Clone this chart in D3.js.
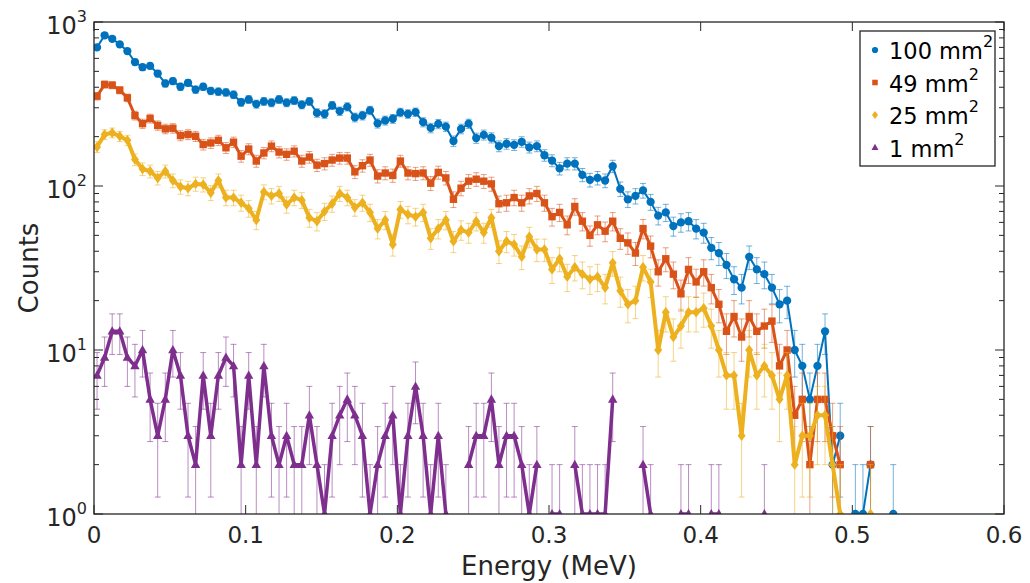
<!DOCTYPE html>
<html lang="en">
<head>
<meta charset="utf-8">
<script src="https://d3js.org/d3.v7.min.js"></script>
<style>
  body { margin: 0; background: #fff; }
  svg { font-family: "DejaVu Sans", sans-serif; }
</style>
</head>
<body>
<svg width="1030" height="583"></svg>
<script>
// bin centres of the energy histogram (MeV)
var binStart = 0.002, binWidth = 0.005;

// counts per bin, null = empty bin (not drawn on log axis)
var counts100 = [700, 830, 790, 730, 665, 570, 530, 540, 485, 422,
  436, 403, 426, 387, 403, 380, 376, 372, 360, 324,
  337, 316, 328, 322, 337, 322, 332, 313, 328, 279,
  275, 310, 286, 304, 262, 269, 289, 241, 251, 257,
  281, 275, 282, 245, 226, 239, 230, 188, 223, 240,
  196, 205, 197, 175, 181, 178, 186, 172, 175, 154,
  143, 128, 137, 137, 117, 109, 112, 108, 132, 96,
  83, 87, 94, 80, 66, 69, 57, 60, 61, 55,
  52, 42, 39, 33, 27, 24, 37, 31, 29, 24,
  19, 20, 10, 8, 5, 8, 13, 2, 3, null,
  1, 1, 2, null, null, 1];

var counts49 = [353, 416, 412, 384, 345, 269, 240, 258, 234, 223,
  225, 203, 206, 201, 179, 183, 190, 171, 185, 152,
  168, 142, 159, 175, 161, 156, 163, 142, 150, 134,
  137, 144, 148, 148, 122, 133, 144, 115, 120, 116,
  142, 120, 119, 120, 104, 121, 112, 83, 97, 107,
  110, 107, 103, 78, 79, 85, 79, 87, 90, 79,
  65, 69, 58, 75, 61, 50, 58, 53, 61, 48,
  45, 39, 55, 43, 30, 36, 29, 22, 31, 26,
  30, 24, 19, 13, 16, 12, 16, 13, 14, 15,
  8, 10, 4, 5, 2, 5, 5, 3, 2, null,
  null, null, 2];

var counts25 = [173, 206, 211, 201, 190, 145, 127, 123, 112, 123,
  108, 99, 97, 103, 102, 91, 108, 85, 85, 79,
  73, 62, 92, 87, 90, 77, 85, 82, 64, 61,
  70, 78, 90, 85, 74, 79, 69, 55, 62, 44,
  72, 67, 65, 69, 48, 55, 62, 46, 54, 52,
  61, 52, 64, 40, 46, 44, 37, 49, 41, 41,
  31, 36, 28, 32, 29, 27, 28, 24, 34, 23,
  19, 20, 32, 26, 10, 17, 12, 14, 17, 17,
  18, 14, 10, 7, 7, 3, 10, 7, 8, 7,
  5, 7, 2, 3, 3, 4, 4, 2, 1, null,
  null, null, 1];

var counts1 = [7, 9, 13, 13, 9, 8, 10, 5, 3, 5,
  10, 7, 3, 2, 7, 3, 7, 9, 8, 2,
  7, 2, 8, 3, 2, 3, 2, 2, 4, 2,
  1, 3, 4, 5, 4, 3, 1, 2, 3, 4,
  1, 3, 6, 3, 1, 3, 1, null, null, 2,
  3, 3, 5, 2, 3, 3, 2, 1, 2, null,
  1, 1, null, 2, 1, 1, 1, 1, 5, null,
  null, null, 2, 1, null, null, null, 1, 1, null,
  null, 1, 1, null, null, null, null, null, 1];

var seriesNames = ["100", "49", "25", "1"];
var seriesColors = ["#0072BD", "#D95319", "#EDB120", "#7E2F8E"];
var xTicks = [0, 0.1, 0.2, 0.3, 0.4, 0.5, 0.6];
var yTicks = [1, 10, 100, 1000];

var svg = d3.select("svg");
var margin = {left: 94, right: 1004, top: 22, bottom: 514};

var x = d3.scaleLinear().domain([0, 0.6]).range([margin.left, margin.right]);
var y = d3.scaleLog().domain([1, 1000]).range([margin.bottom, margin.top]);

var axisColor = "#262626";

svg.append("clipPath").attr("id", "plotclip")
  .append("rect")
  .attr("x", margin.left).attr("y", margin.top)
  .attr("width", margin.right - margin.left)
  .attr("height", margin.bottom - margin.top);

// ticks (inward, both sides like matlab box on)
var tickG = svg.append("g").attr("stroke", axisColor).attr("stroke-width", 1);
xTicks.forEach(function(t) {
  tickG.append("line").attr("x1", x(t)).attr("x2", x(t))
    .attr("y1", margin.bottom).attr("y2", margin.bottom - 9);
  tickG.append("line").attr("x1", x(t)).attr("x2", x(t))
    .attr("y1", margin.top).attr("y2", margin.top + 9);
});
var minor = [];
for (var d = 1; d < 1000; d *= 10) {
  for (var m = 1; m < 10; m++) minor.push(d * m);
}
minor.push(1000);
minor.forEach(function(v) {
  var major = yTicks.indexOf(v) >= 0;
  var len = major ? 9 : 5;
  tickG.append("line").attr("x1", margin.left).attr("x2", margin.left + len)
    .attr("y1", y(v)).attr("y2", y(v));
  tickG.append("line").attr("x1", margin.right).attr("x2", margin.right - len)
    .attr("y1", y(v)).attr("y2", y(v));
});

// axis labels
svg.append("g").selectAll("text").data(xTicks).enter().append("text")
  .attr("x", function(d) { return x(d); })
  .attr("y", margin.bottom + 29)
  .attr("text-anchor", "middle")
  .attr("font-size", 23)
  .attr("fill", axisColor)
  .text(function(d) { return d === 0 ? "0" : d3.format(".1f")(d); });

var yl = svg.append("g").selectAll("text").data(yTicks).enter().append("text")
  .attr("x", margin.left - 7)
  .attr("y", function(d) { return y(d) + 12; })
  .attr("text-anchor", "end")
  .attr("font-size", 24)
  .attr("fill", axisColor);
yl.append("tspan").text("10");
yl.append("tspan").attr("font-size", 16).attr("dy", -12)
  .text(function(d) { return Math.round(Math.log10(d)); });

svg.append("text")
  .attr("x", (margin.left + margin.right) / 2)
  .attr("y", 575)
  .attr("text-anchor", "middle")
  .attr("font-size", 26)
  .attr("fill", axisColor)
  .text("Energy (MeV)");

svg.append("text")
  .attr("transform", "translate(38," + ((margin.top + margin.bottom) / 2) + ") rotate(-90)")
  .attr("text-anchor", "middle")
  .attr("font-size", 26)
  .attr("fill", axisColor)
  .text("Counts");

// marker shapes
function markerPath(k) {
  if (k === 0) return d3.symbol().type(d3.symbolCircle).size(54)();
  if (k === 1) return "M-3.7,-3.7H3.7V3.7H-3.7Z";
  if (k === 2) return "M0,-5.2L4,0L0,5.2L-4,0Z";
  return "M0,-5L4.7,3.3L-4.7,3.3Z";
}
var lineWidths = [2, 3, 4, 3.5];

var allSeries = [counts100, counts49, counts25, counts1];
var plot = svg.append("g").attr("clip-path", "url(#plotclip)");

allSeries.forEach(function(arr, k) {
  var pts = arr.map(function(v, i) { return {e: binStart + binWidth * i, v: v}; });
  var color = seriesColors[k];
  var g = plot.append("g");

  // poisson error bars
  var eb = g.append("g").attr("stroke", color).attr("stroke-opacity", 0.55)
    .attr("stroke-width", 1).attr("fill", "none");
  pts.filter(function(p) { return p.v != null; }).forEach(function(p) {
    var s = Math.sqrt(p.v);
    var lo = p.v - s > 0 ? y(p.v - s) : margin.bottom + 20;
    var hi = y(p.v + s);
    var cx = x(p.e);
    eb.append("path").attr("d",
      "M" + cx + "," + lo + "V" + hi +
      "M" + (cx - 3) + "," + hi + "H" + (cx + 3) +
      "M" + (cx - 3) + "," + lo + "H" + (cx + 3));
  });

  var line = d3.line()
    .defined(function(p) { return p.v != null; })
    .x(function(p) { return x(p.e); })
    .y(function(p) { return y(p.v); });
  g.append("path").datum(pts).attr("d", line)
    .attr("fill", "none").attr("stroke", color)
    .attr("stroke-width", lineWidths[k]).attr("stroke-linejoin", "round");

  g.selectAll(".mk").data(pts.filter(function(p) { return p.v != null; }))
    .enter().append("path")
    .attr("d", markerPath(k))
    .attr("transform", function(p) { return "translate(" + x(p.e) + "," + y(p.v) + ")"; })
    .attr("fill", color);
});

// box
svg.append("rect")
  .attr("x", margin.left).attr("y", margin.top)
  .attr("width", margin.right - margin.left)
  .attr("height", margin.bottom - margin.top)
  .attr("fill", "none").attr("stroke", axisColor).attr("stroke-width", 1.3);

// legend
var lg = svg.append("g");
lg.append("rect").attr("x", 860).attr("y", 31).attr("width", 135).attr("height", 135)
  .attr("fill", "#fff").attr("stroke", axisColor).attr("stroke-width", 1.3);
seriesNames.forEach(function(n, k) {
  var cy = 50 + k * 32.5;
  lg.append("path").attr("d", markerPath(k))
    .attr("transform", "translate(875," + cy + ") scale(0.75)")
    .attr("fill", seriesColors[k]);
  var t = lg.append("text").attr("x", 889).attr("y", cy + 9)
    .attr("font-size", 22.5).attr("fill", "#000");
  t.append("tspan").text(n + " mm");
  t.append("tspan").attr("font-size", 16).attr("dy", -12).text("2");
});
</script>
</body>
</html>
